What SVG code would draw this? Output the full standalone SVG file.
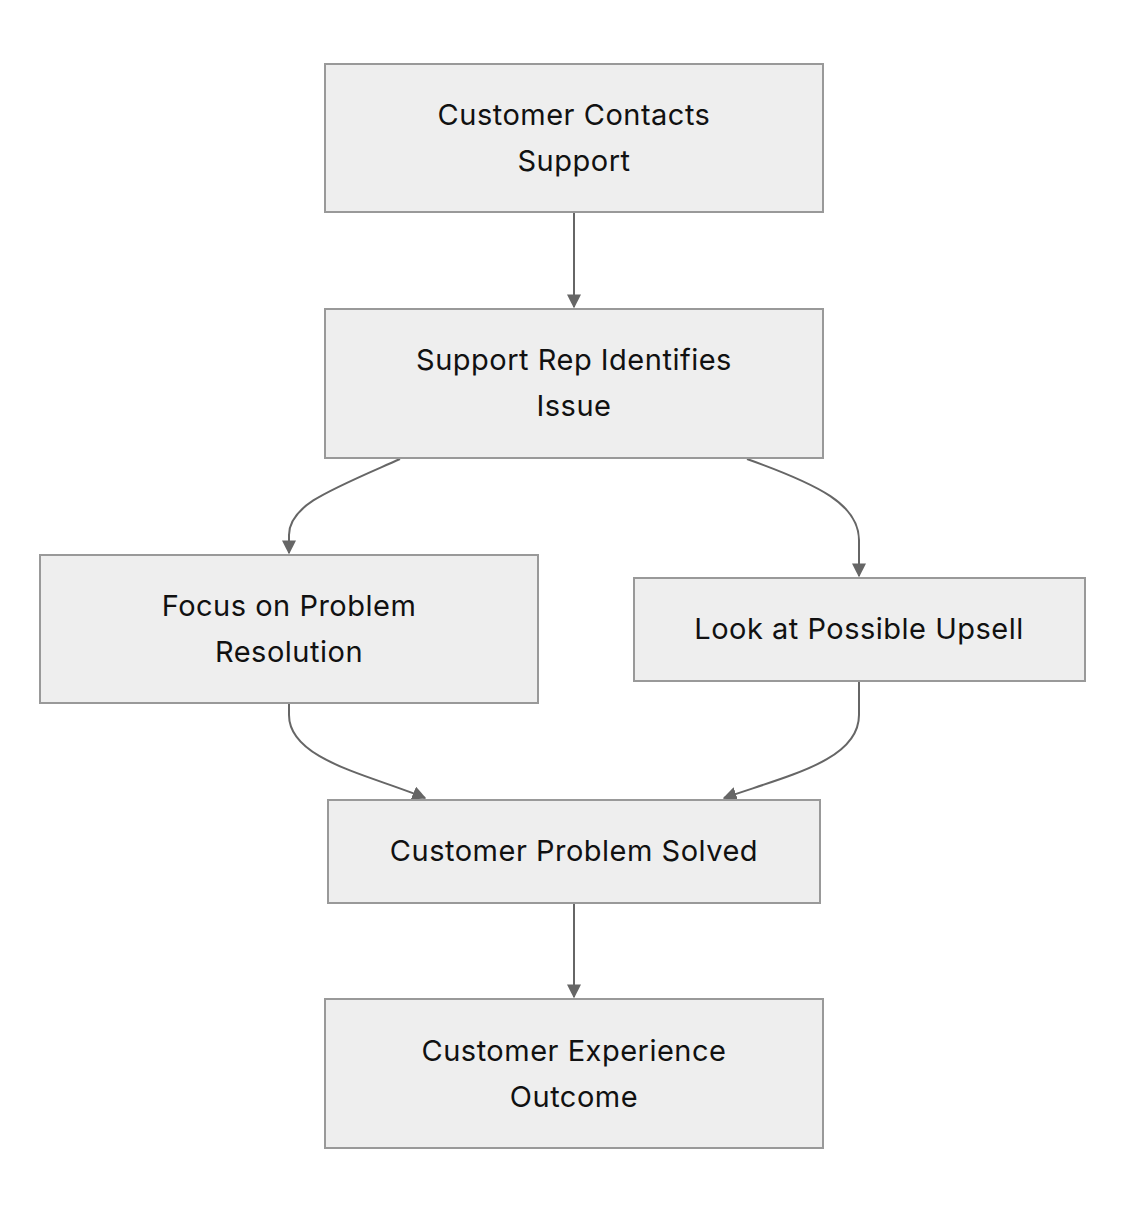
<svg xmlns="http://www.w3.org/2000/svg" width="1124" height="1212" viewBox="0 0 1124 1212">
<style>
.n{fill:#eeeeee;stroke:#999999;stroke-width:2}
.t{font-family:Inter,"Liberation Sans",sans-serif;font-size:29px;letter-spacing:0.5px;fill:#111;text-anchor:middle}
.e{fill:none;stroke:#666666;stroke-width:2;marker-end:url(#a)}
</style>
<defs><marker id="a" viewBox="0 0 10 10" refX="9" refY="5" markerWidth="14" markerHeight="14" markerUnits="userSpaceOnUse" orient="auto"><path d="M0,0L10,5L0,10z" fill="#666666"/></marker></defs>
<rect width="1124" height="1212" fill="#fff"/>
<g id="connectors">
<path class="e" d="M574,213L574,307"/>
<path class="e" d="M400,459C330,490 289,505 289,535L289,553"/>
<path class="e" d="M747,459C820,485 859,505 859,540L859,576"/>
<path class="e" d="M289,704L289,715C289,760 370,775 425,798"/>
<path class="e" d="M859,682L859,715C859,760 790,775 724,798"/>
<path class="e" d="M574,904L574,997"/>
</g>
<g id="n1"><rect class="n" x="325" y="64" width="498" height="148"/><text class="t" x="574" y="125">Customer Contacts</text><text class="t" x="574" y="171">Support</text></g>
<g id="n2"><rect class="n" x="325" y="309" width="498" height="149"/><text class="t" x="574" y="370">Support Rep Identifies</text><text class="t" x="574" y="416">Issue</text></g>
<g id="n3"><rect class="n" x="40" y="555" width="498" height="148"/><text class="t" x="289" y="616">Focus on Problem</text><text class="t" x="289" y="662">Resolution</text></g>
<g id="n4"><rect class="n" x="634" y="578" width="451" height="103"/><text class="t" x="859" y="639">Look at Possible Upsell</text></g>
<g id="n5"><rect class="n" x="328" y="800" width="492" height="103"/><text class="t" x="574" y="861">Customer Problem Solved</text></g>
<g id="n6"><rect class="n" x="325" y="999" width="498" height="149"/><text class="t" x="574" y="1061">Customer Experience</text><text class="t" x="574" y="1107">Outcome</text></g>
</svg>
